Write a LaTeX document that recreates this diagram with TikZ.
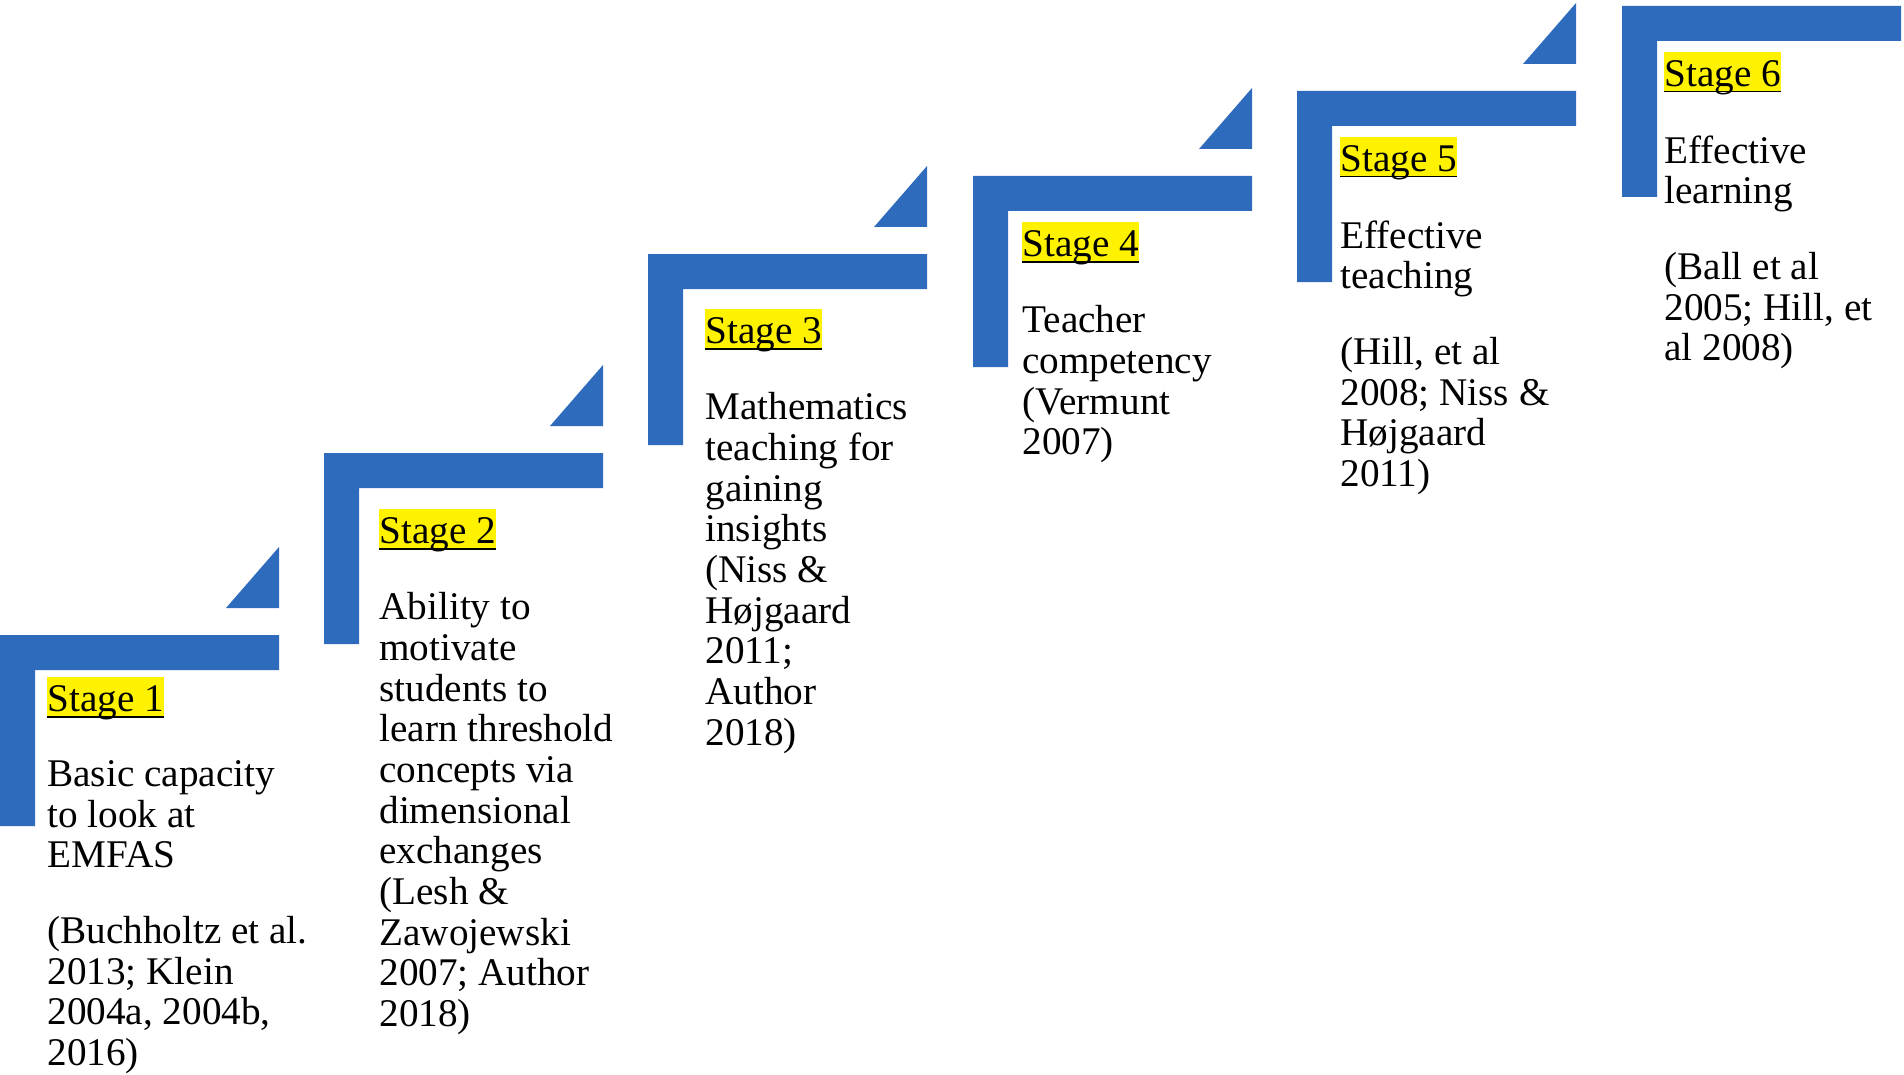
\documentclass[tikz,border=0pt]{standalone}
\usepackage{fontspec}
\setmainfont{Liberation Serif}
\definecolor{stairblue}{RGB}{46,107,189}
\definecolor{marker}{RGB}{255,242,0}

\begin{document}
\begin{tikzpicture}[x=0.5pt,y=-0.5pt,
  every node/.style={font=\fontsize{19.6}{20.35}\selectfont},
  stage label/.style={anchor=north west,fill=marker,inner sep=0pt,
    text height=17pt,text depth=3pt},
  stage text/.style={anchor=north west,inner sep=0pt,align=left,
    execute at begin node={\rule{0pt}{15pt}}}]
\useasboundingbox (0,0) rectangle (1904,1075);
% stairs
\foreach \x/\y in {0/635,324/453,648/254,973/176,1297/91,1622/6}
  \fill[stairblue] (\x,\y) -- ++(279,0) -- ++(0,35) -- ++(-244,0)
    -- ++(0,156) -- ++(-35,0) -- cycle;
\foreach \x/\y in {0/635,324/453,648/254,973/176,1297/91}
  \fill[stairblue] (\x+226,\y-27) -- ++(53,0) -- ++(0,-61) -- cycle;
% labels
\node[stage label] (s1) at (47,677) {Stage 1};
\node[stage label] (s2) at (379,509) {Stage 2};
\node[stage label] (s3) at (705,309) {Stage 3};
\node[stage label] (s4) at (1022,222) {Stage 4};
\node[stage label] (s5) at (1340,137) {Stage 5};
\node[stage label] (s6) at (1664,52) {Stage 6};
\foreach \n in {1,...,6}
  \draw[line width=0.9pt] ([yshift=0.6pt]s\n.south west) -- ([yshift=0.6pt]s\n.south east);
% texts (first baseline 30 below the top)
\node[stage text] (t1) at (47,760) {Basic capacity\\to look at\\EMFAS\\[17.5pt]
  (Buchholtz et al.\\2013; Klein\\2004a, 2004b,\\2016)};
\node[stage text] (t2) at (379,592) {Ability to\\motivate\\students to\\learn threshold\\
  concepts via\\dimensional\\exchanges\\(Lesh \&\\Zawojewski\\2007; Author\\2018)};
\node[stage text] (t3) at (705,392) {Mathematics\\teaching for\\gaining\\insights\\
  (Niss \&\\Højgaard\\2011;\\Author\\2018)};
\node[stage text] (t4) at (1022,305) {Teacher\\competency\\(Vermunt\\2007)};
\node[stage text] (t5) at (1340,220) {Effective\\teaching\\[17.5pt]
  (Hill, et al\\2008; Niss \&\\Højgaard\\2011)};
\node[stage text] (t6) at (1664,135) {Effective\\learning\\[17.5pt]
  (Ball et al\\2005; Hill, et\\al 2008)};
\end{tikzpicture}
\end{document}
